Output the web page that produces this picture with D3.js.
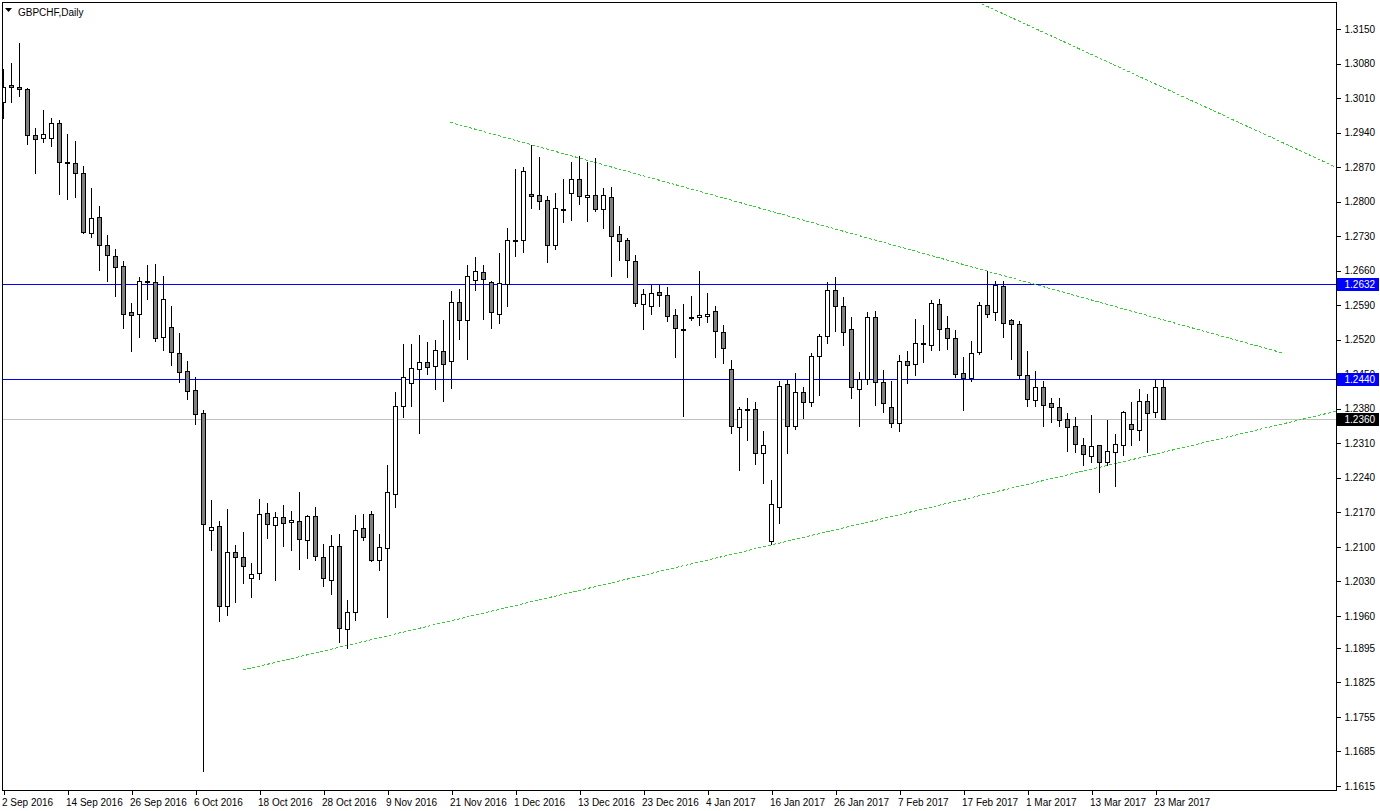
<!DOCTYPE html>
<html>
<head>
<meta charset="utf-8">
<script src="https://cdn.jsdelivr.net/npm/d3@7"></script>
<style>
  html, body { margin: 0; padding: 0; background: #fff; }
  svg { display: block; font-family: "Liberation Sans", Arial, sans-serif; font-size: 10px; }
</style>
</head>
<body>
<div id="chart"></div>
<script>
// Chart title and first trading day of the series
const symbol = "GBPCHF,Daily";
const firstDay = new Date(2016, 8, 2);

// Daily OHLC, one value per trading day (weekdays)
const opens = [
  1.3001, 1.3036, 1.3032, 1.3028, 1.2936, 1.2928, 1.2928, 1.2959, 1.2880, 1.2879,
  1.2859, 1.2737, 1.2768, 1.2713, 1.2689, 1.2669, 1.2576, 1.2573, 1.2639, 1.2636,
  1.2525, 1.2546, 1.2494, 1.2456, 1.2417, 1.2371, 1.2135, 1.2142, 1.1981, 1.2089,
  1.2079, 1.2036, 1.2046, 1.2168, 1.2144, 1.2160, 1.2150, 1.2152, 1.2113, 1.2162,
  1.2079, 1.2032, 1.2101, 1.1933, 1.1967, 1.2138, 1.2166, 1.2074, 1.2097, 1.2208,
  1.2385, 1.2432, 1.2460, 1.2474, 1.2466, 1.2498, 1.2476, 1.2596, 1.2559, 1.2642,
  1.2657, 1.2636, 1.2573, 1.2632, 1.2722, 1.2722, 1.2815, 1.2813, 1.2803, 1.2713,
  1.2786, 1.2817, 1.2845, 1.2809, 1.2813, 1.2786, 1.2809, 1.2734, 1.2722, 1.2679,
  1.2592, 1.2588, 1.2616, 1.2610, 1.2571, 1.2541, 1.2567, 1.2567, 1.2569, 1.2578,
  1.2535, 1.2460, 1.2342, 1.2379, 1.2379, 1.2290, 1.2111, 1.2180, 1.2430, 1.2346,
  1.2413, 1.2393, 1.2486, 1.2527, 1.2620, 1.2588, 1.2541, 1.2421, 1.2440, 1.2565,
  1.2434, 1.2383, 1.2352, 1.2476, 1.2470, 1.2513, 1.2509, 1.2592, 1.2543, 1.2523,
  1.2452, 1.2442, 1.2496, 1.2590, 1.2576, 1.2628, 1.2559, 1.2551, 1.2448, 1.2397,
  1.2425, 1.2391, 1.2383, 1.2359, 1.2344, 1.2306, 1.2284, 1.2306, 1.2271, 1.2292,
  1.2306, 1.2350, 1.2336, 1.2395, 1.2373, 1.2425
];
const highs = [
  1.3069, 1.3082, 1.3121, 1.3030, 1.2949, 1.2986, 1.2969, 1.2965, 1.2938, 1.2923,
  1.2872, 1.2828, 1.2791, 1.2732, 1.2703, 1.2680, 1.2594, 1.2647, 1.2671, 1.2673,
  1.2649, 1.2588, 1.2534, 1.2477, 1.2444, 1.2377, 1.2195, 1.2153, 1.2177, 1.2104,
  1.2130, 1.2067, 1.2197, 1.2189, 1.2171, 1.2184, 1.2173, 1.2211, 1.2164, 1.2180,
  1.2105, 1.2123, 1.2125, 1.1992, 1.2164, 1.2166, 1.2172, 1.2127, 1.2265, 1.2413,
  1.2511, 1.2511, 1.2529, 1.2515, 1.2519, 1.2559, 1.2619, 1.2622, 1.2671, 1.2687,
  1.2671, 1.2640, 1.2695, 1.2746, 1.2866, 1.2870, 1.2915, 1.2890, 1.2811, 1.2817,
  1.2845, 1.2880, 1.2892, 1.2880, 1.2888, 1.2827, 1.2829, 1.2750, 1.2726, 1.2691,
  1.2622, 1.2631, 1.2631, 1.2627, 1.2582, 1.2592, 1.2608, 1.2659, 1.2614, 1.2588,
  1.2549, 1.2478, 1.2383, 1.2401, 1.2393, 1.2334, 1.2235, 1.2436, 1.2438, 1.2452,
  1.2425, 1.2492, 1.2531, 1.2636, 1.2647, 1.2606, 1.2567, 1.2454, 1.2576, 1.2578,
  1.2458, 1.2436, 1.2488, 1.2498, 1.2561, 1.2549, 1.2600, 1.2602, 1.2569, 1.2539,
  1.2484, 1.2517, 1.2596, 1.2659, 1.2640, 1.2640, 1.2561, 1.2557, 1.2498, 1.2456,
  1.2436, 1.2401, 1.2401, 1.2371, 1.2363, 1.2320, 1.2367, 1.2306, 1.2357, 1.2328,
  1.2375, 1.2393, 1.2421, 1.2409, 1.2440, 1.2440
];
const lows = [
  1.2970, 1.3001, 1.3015, 1.2917, 1.2859, 1.2921, 1.2913, 1.2815, 1.2805, 1.2810,
  1.2736, 1.2729, 1.2662, 1.2640, 1.2609, 1.2544, 1.2498, 1.2526, 1.2602, 1.2518,
  1.2500, 1.2469, 1.2435, 1.2400, 1.2350, 1.1645, 1.2094, 1.1950, 1.1962, 1.1989,
  1.2027, 1.1999, 1.2035, 1.2118, 1.2033, 1.2102, 1.2094, 1.2056, 1.2078, 1.2073,
  1.2021, 1.2005, 1.1906, 1.1895, 1.1951, 1.2113, 1.2071, 1.2054, 1.1957, 1.2180,
  1.2364, 1.2386, 1.2331, 1.2450, 1.2419, 1.2395, 1.2423, 1.2522, 1.2481, 1.2620,
  1.2561, 1.2543, 1.2553, 1.2588, 1.2689, 1.2697, 1.2788, 1.2786, 1.2677, 1.2703,
  1.2758, 1.2762, 1.2795, 1.2760, 1.2780, 1.2746, 1.2649, 1.2681, 1.2647, 1.2588,
  1.2541, 1.2573, 1.2588, 1.2557, 1.2484, 1.2365, 1.2559, 1.2549, 1.2555, 1.2484,
  1.2472, 1.2330, 1.2255, 1.2316, 1.2267, 1.2230, 1.2105, 1.2148, 1.2290, 1.2338,
  1.2361, 1.2385, 1.2407, 1.2513, 1.2537, 1.2509, 1.2401, 1.2344, 1.2430, 1.2387,
  1.2373, 1.2342, 1.2334, 1.2432, 1.2448, 1.2474, 1.2500, 1.2500, 1.2502, 1.2444,
  1.2377, 1.2436, 1.2490, 1.2565, 1.2559, 1.2525, 1.2480, 1.2442, 1.2385, 1.2385,
  1.2344, 1.2354, 1.2344, 1.2294, 1.2292, 1.2265, 1.2273, 1.2211, 1.2265, 1.2223,
  1.2286, 1.2306, 1.2316, 1.2292, 1.2363, 1.2360
];
const closes = [
  1.3032, 1.3032, 1.3028, 1.2936, 1.2926, 1.2938, 1.2959, 1.2880, 1.2878, 1.2859,
  1.2739, 1.2766, 1.2713, 1.2691, 1.2667, 1.2573, 1.2571, 1.2640, 1.2636, 1.2523,
  1.2602, 1.2496, 1.2455, 1.2415, 1.2369, 1.2146, 1.2140, 1.1981, 1.2089, 1.2079,
  1.2062, 1.2045, 1.2166, 1.2146, 1.2160, 1.2148, 1.2154, 1.2115, 1.2162, 1.2081,
  1.2036, 1.2101, 1.1935, 1.1967, 1.2135, 1.2119, 1.2073, 1.2099, 1.2211, 1.2385,
  1.2444, 1.2462, 1.2474, 1.2464, 1.2500, 1.2470, 1.2596, 1.2559, 1.2649, 1.2659,
  1.2644, 1.2576, 1.2634, 1.2722, 1.2720, 1.2863, 1.2811, 1.2801, 1.2713, 1.2788,
  1.2782, 1.2845, 1.2811, 1.2813, 1.2786, 1.2813, 1.2730, 1.2720, 1.2681, 1.2594,
  1.2612, 1.2614, 1.2610, 1.2569, 1.2543, 1.2539, 1.2565, 1.2571, 1.2573, 1.2537,
  1.2503, 1.2344, 1.2379, 1.2377, 1.2290, 1.2306, 1.2186, 1.2427, 1.2346, 1.2413,
  1.2393, 1.2486, 1.2527, 1.2620, 1.2588, 1.2535, 1.2424, 1.2440, 1.2565, 1.2434,
  1.2391, 1.2352, 1.2476, 1.2468, 1.2513, 1.2513, 1.2594, 1.2541, 1.2523, 1.2450,
  1.2442, 1.2494, 1.2590, 1.2573, 1.2630, 1.2553, 1.2551, 1.2448, 1.2399, 1.2425,
  1.2387, 1.2383, 1.2357, 1.2342, 1.2308, 1.2288, 1.2304, 1.2271, 1.2294, 1.2308,
  1.2373, 1.2338, 1.2395, 1.2371, 1.2425, 1.2360
];

// Price axis labels
const priceTicks = [
  1.3150, 1.3080, 1.3010, 1.2940, 1.2870, 1.2800, 1.2730, 1.2660, 1.2590, 1.2520,
  1.2450, 1.2380, 1.2310, 1.2240, 1.2170, 1.2100, 1.2030, 1.1960, 1.1895, 1.1825,
  1.1755, 1.1685, 1.1615
];

// Horizontal levels drawn by hand
const levels = [1.2632, 1.2440];

// Trend lines: [bar index, price] end points
const trendLines = [
  [[120.0, 1.3218], [170.0, 1.2844]],
  [[55.8, 1.2961], [159.9, 1.2493]],
  [[29.9, 1.1850], [170.0, 1.2388]]
];

const W = 1380, H = 811;
const plot = { left: 2.5, top: 2.5, right: 1336.5, bottom: 790.5 };

const n = closes.length;
const days = d3.timeDay.range(firstDay, d3.timeDay.offset(firstDay, 300))
  .filter(d => d.getDay() !== 0 && d.getDay() !== 6)
  .slice(0, n);

const bars = d3.range(n).map(i => ({
  i, date: days[i], o: opens[i], h: highs[i], l: lows[i], c: closes[i]
}));

const x = d3.scaleLinear().domain([0, n - 1]).range([3.5, 3.5 + 8 * (n - 1)]);
const y = d3.scaleLinear().domain([1.1615, 1.3150]).range([786, 29]);

const svg = d3.select("#chart").append("svg")
  .attr("width", W)
  .attr("height", H);

svg.append("rect").attr("width", W).attr("height", H).attr("fill", "#fff");

svg.append("clipPath").attr("id", "plotClip")
  .append("rect")
  .attr("x", plot.left).attr("y", plot.top)
  .attr("width", plot.right - plot.left).attr("height", plot.bottom - plot.top);

const g = svg.append("g").attr("clip-path", "url(#plotClip)");

// current price line (last close)
const lastPrice = closes[n - 1];
g.append("line")
  .attr("x1", plot.left).attr("x2", plot.right)
  .attr("y1", Math.round(y(lastPrice)) + 0.5).attr("y2", Math.round(y(lastPrice)) + 0.5)
  .attr("stroke", "#c0c0c0")
  .attr("shape-rendering", "crispEdges");

// blue levels
g.selectAll(".level")
  .data(levels)
  .enter().append("line")
  .attr("class", "level")
  .attr("x1", plot.left).attr("x2", plot.right)
  .attr("y1", d => Math.round(y(d)) + 0.5).attr("y2", d => Math.round(y(d)) + 0.5)
  .attr("stroke", "#0000ff")
  .attr("shape-rendering", "crispEdges");

// trend lines
g.selectAll(".trend")
  .data(trendLines)
  .enter().append("line")
  .attr("class", "trend")
  .attr("x1", d => x(d[0][0])).attr("y1", d => y(d[0][1]))
  .attr("x2", d => x(d[1][0])).attr("y2", d => y(d[1][1]))
  .attr("stroke", "#32cd32")
  .attr("stroke-dasharray", "3,2")
  .attr("shape-rendering", "crispEdges");

// candles
const candle = g.selectAll(".bar")
  .data(bars)
  .enter().append("g")
  .attr("class", "bar")
  .attr("shape-rendering", "crispEdges");

candle.append("line")
  .attr("x1", d => x(d.i)).attr("x2", d => x(d.i))
  .attr("y1", d => Math.round(y(d.h))).attr("y2", d => Math.round(y(d.l)) + 1)
  .attr("stroke", "#000");

candle.append("rect")
  .attr("x", d => x(d.i) - 2)
  .attr("width", 4)
  .attr("y", d => Math.round(y(Math.max(d.o, d.c))) + 0.5)
  .attr("height", d => Math.max(1, Math.round(y(Math.min(d.o, d.c))) - Math.round(y(Math.max(d.o, d.c)))))
  .attr("fill", d => d.c > d.o ? "#fff" : d.c < d.o ? "#808080" : "#000")
  .attr("stroke", "#000");

// frame
svg.append("rect")
  .attr("x", plot.left).attr("y", plot.top)
  .attr("width", plot.right - plot.left).attr("height", plot.bottom - plot.top)
  .attr("fill", "none").attr("stroke", "#000")
  .attr("shape-rendering", "crispEdges");

// price axis
const yAxis = svg.append("g")
  .attr("transform", `translate(${plot.right},0)`)
  .call(d3.axisRight(y).tickValues(priceTicks).tickFormat(d3.format(".4f")).tickSize(4).tickPadding(4))
  .attr("font-family", null).attr("font-size", null);
yAxis.select(".domain").remove();
yAxis.selectAll("line").attr("shape-rendering", "crispEdges");
yAxis.selectAll("text").attr("fill", "#000");

// date axis
const fmt = d3.timeFormat("%-d %b %Y");
const xAxis = svg.append("g")
  .attr("transform", `translate(0,${plot.bottom})`)
  .call(d3.axisBottom(x).tickValues(d3.range(0, n, 8)).tickFormat(i => fmt(days[i])).tickSize(4).tickPadding(4))
  .attr("font-family", null).attr("font-size", null);
xAxis.select(".domain").remove();
xAxis.selectAll("line").attr("shape-rendering", "crispEdges");
xAxis.selectAll("text").attr("text-anchor", "start").attr("dx", -2).attr("fill", "#000");

// price labels on the axis
const tags = levels.map(p => ({ p, bg: "#0000ff" })).concat([{ p: lastPrice, bg: "#000" }]);
const tag = svg.selectAll(".tag")
  .data(tags)
  .enter().append("g")
  .attr("class", "tag")
  .attr("transform", d => `translate(${plot.right},${Math.round(y(d.p))})`);
tag.append("rect")
  .attr("x", 0.5).attr("y", -6).attr("width", 42).attr("height", 13)
  .attr("fill", d => d.bg)
  .attr("shape-rendering", "crispEdges");
tag.append("text")
  .attr("x", 8).attr("y", 4)
  .attr("fill", "#fff")
  .text(d => d3.format(".4f")(d.p));

// title
svg.append("path")
  .attr("d", "M5,8 L12,8 L8.5,12 Z")
  .attr("fill", "#000");
svg.append("text")
  .attr("x", 18).attr("y", 15.5)
  .attr("fill", "#000")
  .text(symbol);
</script>
</body>
</html>
